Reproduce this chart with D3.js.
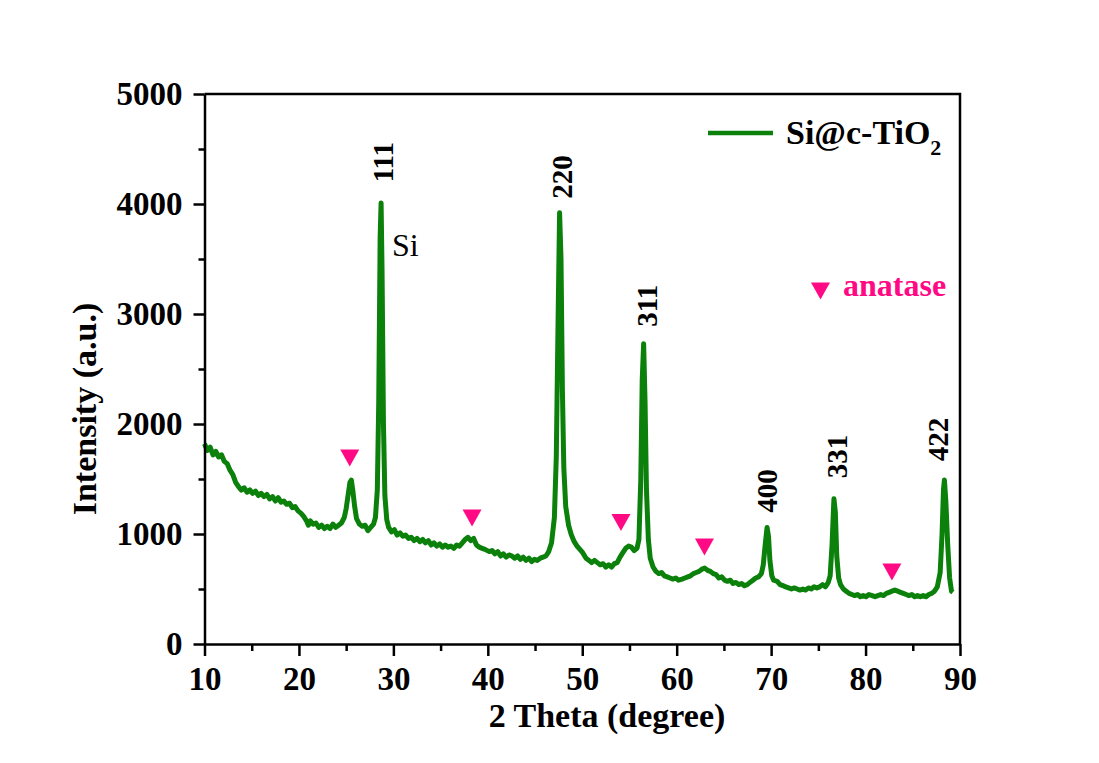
<!DOCTYPE html>
<html>
<head>
<meta charset="utf-8">
<script src="https://cdn.jsdelivr.net/npm/d3@7"></script>
<style>
  body { margin: 0; background: #fff; }
  svg text { font-family: "Liberation Serif", "Times New Roman", serif; }
</style>
</head>
<body>
<script>
// XRD pattern of Si@c-TiO2
var twoTheta = [
  10.0, 10.3, 10.6, 10.9, 11.2, 11.5, 11.8, 12.1, 12.4, 12.7, 13.0, 13.3, 13.6, 13.9,
  14.2, 14.5, 14.8, 15.1, 15.4, 15.7, 16.0, 16.3, 16.6, 16.9, 17.2, 17.5, 17.8, 18.1,
  18.4, 18.7, 19.0, 19.3, 19.6, 19.9, 20.2, 20.5, 20.8, 21.0, 21.2, 21.5, 21.8, 22.1,
  22.4, 22.7, 23.0, 23.3, 23.6, 23.9, 24.2, 24.5, 24.8, 25.0, 25.2, 25.4, 25.55, 25.7,
  25.9, 26.1, 26.4, 26.7, 27.0, 27.3, 27.6, 27.9, 28.1, 28.3, 28.45, 28.6, 28.7, 28.8,
  28.95, 29.1, 29.3, 29.5, 29.8, 30.1, 30.4, 30.7, 31.0, 31.3, 31.6, 31.9, 32.2, 32.5,
  32.8, 33.1, 33.4, 33.7, 34.0, 34.3, 34.6, 34.9, 35.2, 35.5, 35.8, 36.1, 36.4, 36.7,
  37.0, 37.3, 37.6, 37.9, 38.2, 38.5, 38.8, 39.1, 39.4, 39.7,
  40.15, 40.45, 40.75, 41.05, 41.35, 41.65, 41.95, 42.25, 42.55, 42.85, 43.15, 43.45,
  43.75, 44.05, 44.35, 44.65, 44.95, 45.25,
  45.55, 45.85, 46.15, 46.45, 46.75, 47.05, 47.25, 47.45, 47.6, 47.75, 47.9, 48.05,
  48.25, 48.55, 48.85, 49.15, 49.45, 49.75, 50.05,
  50.4, 50.7, 51.0, 51.3, 51.6, 51.9, 52.2, 52.5, 52.8, 53.1, 53.4, 53.7, 54.0, 54.3,
  54.6, 54.9, 55.2, 55.5, 55.8, 56.0, 56.2, 56.35, 56.5, 56.65, 56.8, 57.0, 57.2, 57.5,
  57.8, 58.1, 58.4, 58.7, 59.0, 59.3, 59.6, 59.9, 60.2,
  60.57, 60.87, 61.17, 61.47, 61.77, 62.07, 62.37, 62.67, 62.97, 63.27, 63.57, 63.87,
  64.17, 64.47, 64.77, 65.07, 65.37, 65.67, 65.97, 66.27, 66.57, 66.87, 67.17, 67.47,
  67.77, 68.07, 68.37, 68.67, 68.97, 69.17, 69.37, 69.57, 69.72, 69.87, 70.07, 70.27,
  70.65, 70.95, 71.25, 71.55, 71.85, 72.15, 72.45, 72.75, 73.05, 73.35, 73.65, 73.95,
  74.25, 74.55, 74.85, 75.15, 75.45, 75.75, 76.05, 76.25, 76.45, 76.65, 76.8, 76.95,
  77.15, 77.35, 77.65, 77.95, 78.25, 78.55, 78.85, 79.15, 79.45, 79.75, 80.05, 80.35,
  80.7, 81.0, 81.3, 81.6, 81.9, 82.2, 82.5, 82.8, 83.1, 83.4, 83.7, 84.0, 84.3, 84.6,
  84.9, 85.2, 85.5, 85.8, 86.1, 86.4, 86.7, 87.0, 87.3, 87.6, 87.9, 88.1, 88.25, 88.35,
  88.5, 88.7, 88.9, 89.1, 89.25
];
var intensity = [
  1820, 1760, 1790, 1720, 1750, 1700, 1720, 1660, 1640, 1580, 1540, 1470, 1430, 1400,
  1420, 1380, 1400, 1370, 1390, 1350, 1370, 1340, 1360, 1320, 1340, 1300, 1330, 1290,
  1300, 1270, 1280, 1240, 1250, 1210, 1190, 1160, 1120, 1080, 1120, 1090, 1100, 1060,
  1080, 1050, 1070, 1050, 1090, 1060, 1080, 1100, 1150, 1230, 1350, 1470, 1490, 1400,
  1250, 1140, 1090, 1070, 1080, 1030, 1060, 1090, 1150, 1400, 2200, 3700, 4010, 3400,
  2000, 1350, 1130, 1060, 1020, 1040, 990, 1010, 980, 990, 960, 970, 940, 960,
  930, 950, 920, 940, 900, 920, 890, 910, 880, 900, 880, 890, 870, 900,
  890, 920, 950, 970, 940, 960, 900, 880, 870, 860,
  840, 850, 820, 840, 800, 820, 790, 810, 800, 780, 800, 770,
  790, 760, 780, 750, 770, 760,
  780, 790, 800, 840, 920, 1150, 1700, 3000, 3920, 3500, 2300, 1600,
  1250, 1080, 990, 930, 890, 860, 830,
  780, 760, 740, 760, 740, 720, 730, 700, 720, 700, 730, 740, 790, 830,
  870, 890, 880, 850, 870, 950, 1500, 2400, 2730, 2200, 1400, 950, 780, 700,
  660, 640, 650, 620, 610, 600, 590, 600, 580,
  590, 600, 610, 620, 640, 650, 660, 680, 690, 670, 660, 640,
  630, 600, 610, 580, 570, 580, 550, 560, 540, 550, 530, 540,
  560, 580, 600, 610, 640, 720, 900, 1060, 980, 760, 620, 580,
  570, 540, 530, 520, 510, 500, 510, 500, 490, 500, 490, 510,
  500, 520, 510, 520, 540, 520, 560, 620, 900, 1320, 1200, 800,
  600, 540, 500, 480, 460, 450, 440, 450, 430, 440, 430, 450,
  440, 430, 440, 450, 440, 460, 470, 480, 490, 480, 470, 460, 450, 440,
  450, 430, 440, 430, 440, 430, 450, 460, 480, 520, 650, 1000, 1400, 1490,
  1300, 900, 600, 480, 470
];

var xTicks = [10, 20, 30, 40, 50, 60, 70, 80, 90];
var xMinorTicks = [15, 25, 35, 45, 55, 65, 75, 85];
var yTicks = [0, 1000, 2000, 3000, 4000, 5000];
var yMinorTicks = [500, 1500, 2500, 3500, 4500];

// Miller indices of the Si peaks, text anchor in data units
var peakLabels = ["111", "220", "311", "400", "331", "422"];
var peakLabelX = [29.96, 48.91, 57.91, 70.62, 78.03, 88.72];
var peakLabelY = [4380, 4245, 3075, 1390, 1705, 1860];

// anatase markers
var anataseX = [25.38, 38.33, 54.1, 62.94, 82.79];
var anataseY = [1691, 1145, 1105, 882, 655];

var seriesName = "Si@c-TiO";
var lineColor = "#0b800b";
var pink = "#ff0a84";

var width = 1099, height = 763;
var mLeft = 204.5, mRight = 960, mTop = 94, mBottom = 644;

var svg = d3.select("body").append("svg")
    .attr("width", width)
    .attr("height", height);

var x = d3.scaleLinear().domain([10, 90]).range([mLeft, mRight]);
var y = d3.scaleLinear().domain([0, 5000]).range([mBottom, mTop]);

var pts = twoTheta.map(function(d, i) { return [d, intensity[i]]; });

var line = d3.line()
    .x(function(d) { return x(d[0]); })
    .y(function(d) { return y(d[1]); });

svg.append("path")
    .datum(pts)
    .attr("fill", "none")
    .attr("stroke", lineColor)
    .attr("stroke-width", 5)
    .attr("stroke-linejoin", "round")
    .attr("d", line);

// frame (top & right)
svg.append("path")
    .attr("d", "M" + mLeft + "," + mTop + "H" + mRight + "V" + mBottom)
    .attr("fill", "none")
    .attr("stroke", "#000")
    .attr("stroke-width", 2.5);

// minor ticks
svg.append("g")
    .attr("transform", "translate(0," + mBottom + ")")
    .call(d3.axisBottom(x).tickValues(xMinorTicks).tickSize(7).tickFormat(""))
    .call(function(g) { g.select(".domain").remove(); g.selectAll("line").attr("stroke-width", 2.5); });
svg.append("g")
    .attr("transform", "translate(" + mLeft + ",0)")
    .call(d3.axisLeft(y).tickValues(yMinorTicks).tickSize(6).tickFormat(""))
    .call(function(g) { g.select(".domain").remove(); g.selectAll("line").attr("stroke-width", 2.5); });

// major axes
var xAxis = svg.append("g")
    .attr("transform", "translate(0," + mBottom + ")")
    .call(d3.axisBottom(x).tickValues(xTicks).tickSize(12).tickSizeOuter(0).tickPadding(11));
var yAxis = svg.append("g")
    .attr("transform", "translate(" + mLeft + ",0)")
    .call(d3.axisLeft(y).tickValues(yTicks).tickSize(11).tickSizeOuter(0).tickPadding(11)
      .tickFormat(d3.format("d")));

[xAxis, yAxis].forEach(function(g) {
  g.select(".domain").attr("stroke-width", 2.5);
  g.selectAll(".tick line").attr("stroke-width", 2.5);
  g.selectAll(".tick text")
    .attr("fill", "#000")
    .style("font-family", "'Liberation Serif', serif")
    .style("font-weight", "bold")
    .style("font-size", "33px");
});

// axis titles
svg.append("text")
    .attr("x", 607)
    .attr("y", 727)
    .attr("text-anchor", "middle")
    .style("font-weight", "bold")
    .style("font-size", "34px")
    .text("2 Theta (degree)");

svg.append("text")
    .attr("transform", "translate(96,409) rotate(-90)")
    .attr("text-anchor", "middle")
    .style("font-weight", "bold")
    .style("font-size", "34px")
    .text("Intensity (a.u.)");

// peak labels
svg.selectAll("text.peak")
    .data(peakLabels)
    .enter()
    .append("text")
    .attr("class", "peak")
    .attr("transform", function(d, i) {
      return "translate(" + x(peakLabelX[i]) + "," + y(peakLabelY[i]) + ") rotate(-90)";
    })
    .attr("text-anchor", "middle")
    .style("font-weight", "bold")
    .style("font-size", "29px")
    .text(function(d) { return d; });

svg.append("text")
    .attr("x", x(29.85))
    .attr("y", y(3528))
    .style("font-size", "32px")
    .text("Si");

// anatase triangles
var tri = "M-9.5,-8.5L9.5,-8.5L0,8.5Z";
svg.selectAll("path.anatase")
    .data(anataseX)
    .enter()
    .append("path")
    .attr("class", "anatase")
    .attr("d", tri)
    .attr("transform", function(d, i) { return "translate(" + x(d) + "," + y(anataseY[i]) + ")"; })
    .attr("fill", pink);

// legend
svg.append("line")
    .attr("x1", 708).attr("x2", 773)
    .attr("y1", 133).attr("y2", 133)
    .attr("stroke", lineColor)
    .attr("stroke-width", 4.5);
var lt = svg.append("text")
    .attr("x", 786)
    .attr("y", 144)
    .style("font-weight", "bold")
    .style("font-size", "34px")
    .text(seriesName);
lt.append("tspan")
    .attr("dy", 11)
    .style("font-size", "22px")
    .text("2");

svg.append("path")
    .attr("d", tri)
    .attr("transform", "translate(820.5,291)")
    .attr("fill", pink);
svg.append("text")
    .attr("x", 843)
    .attr("y", 296)
    .attr("fill", pink)
    .style("font-weight", "bold")
    .style("font-size", "32px")
    .text("anatase");
</script>
</body>
</html>
